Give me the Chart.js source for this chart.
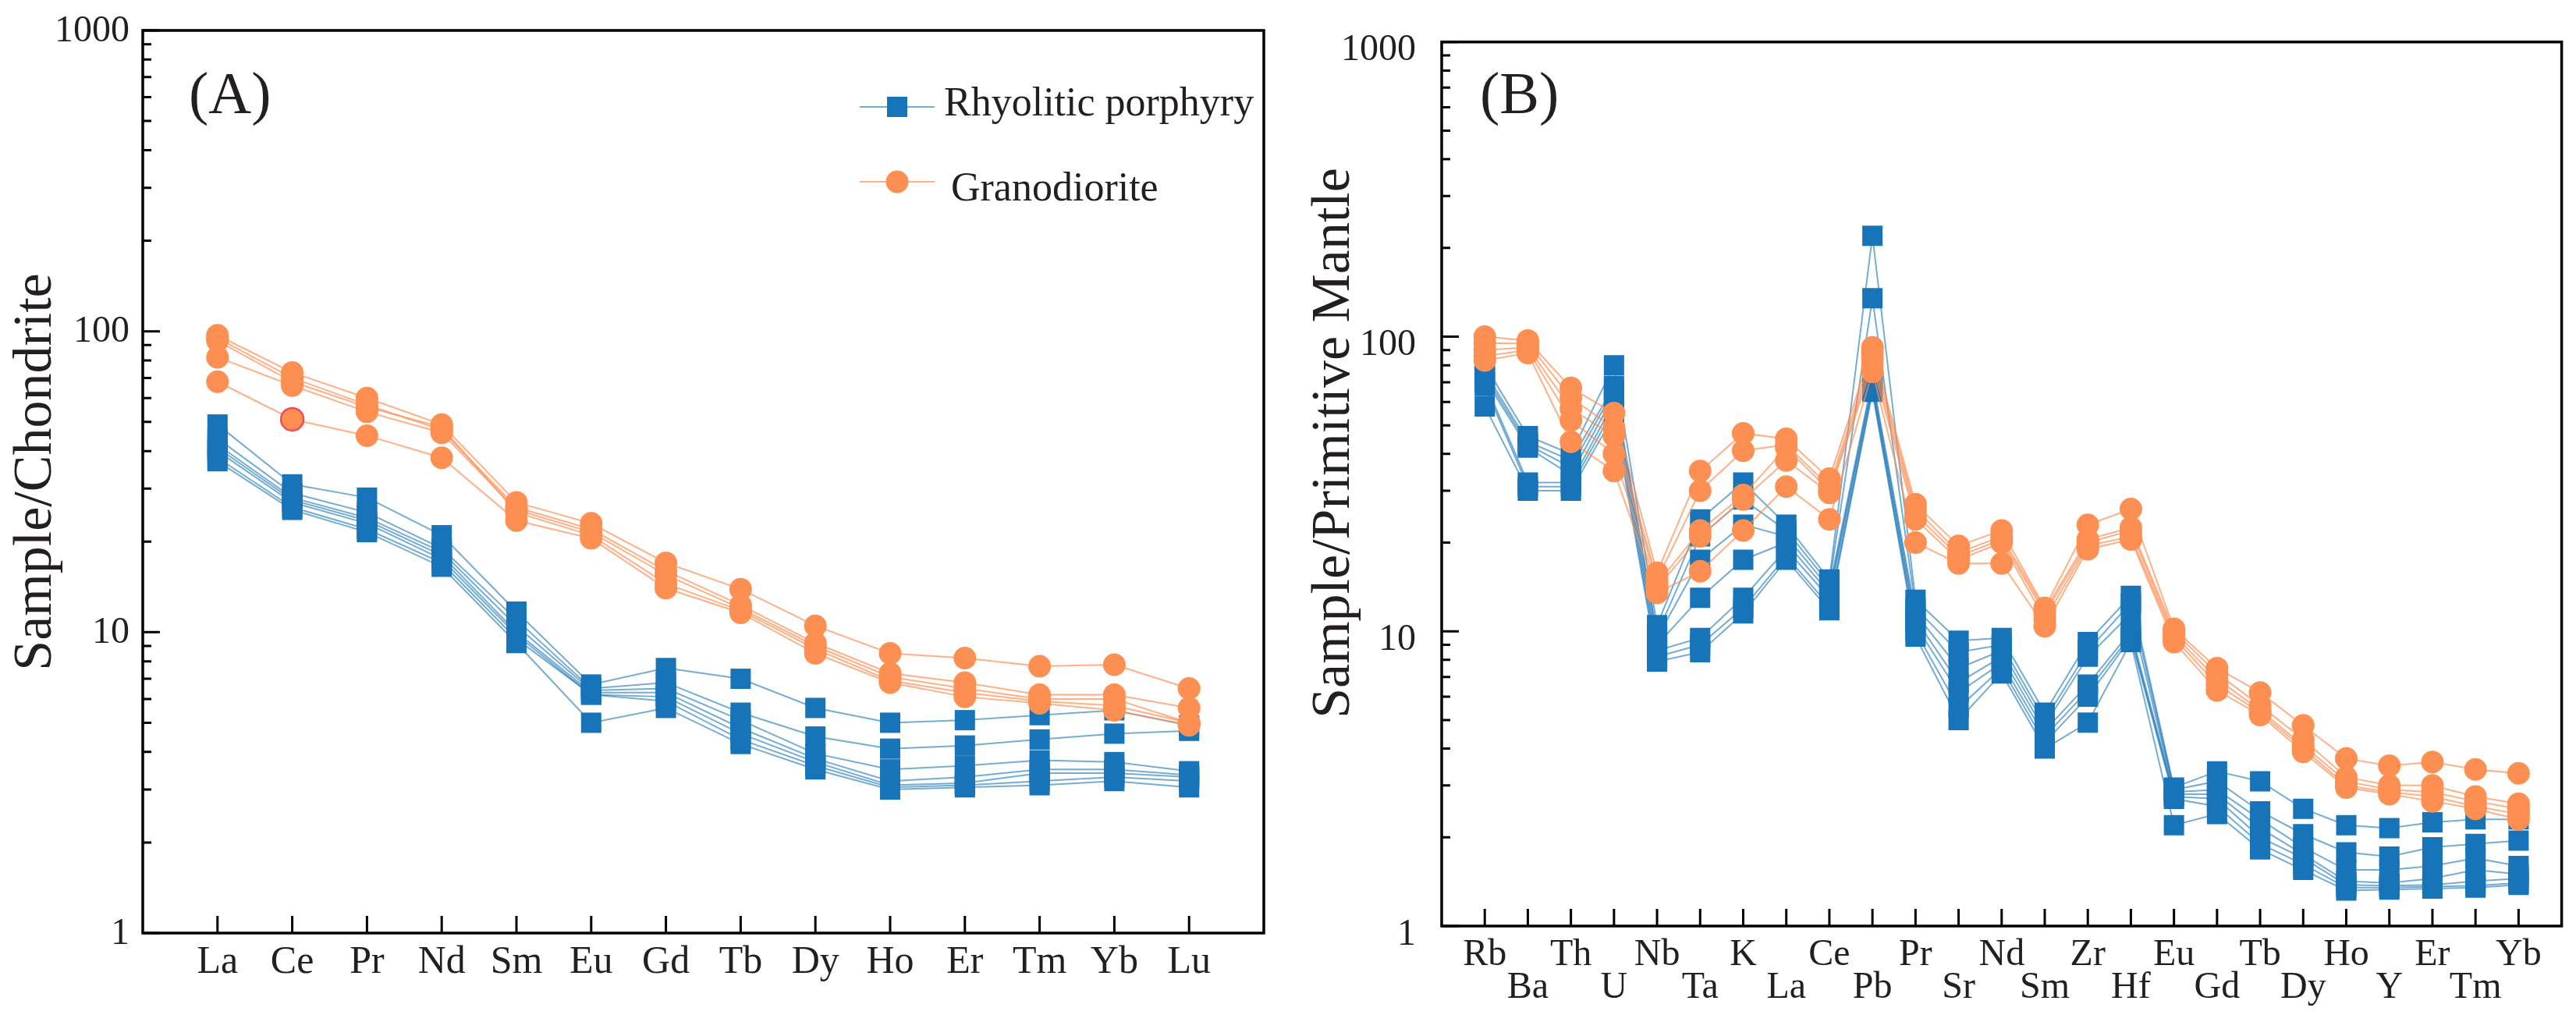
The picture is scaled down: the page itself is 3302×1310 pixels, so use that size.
<!DOCTYPE html>
<html>
<head>
<meta charset="utf-8">
<title>REE and spider diagrams</title>
<script src="https://cdn.jsdelivr.net/npm/chart.js@4.4.0/dist/chart.umd.min.js"></script>
<style>
  html, body { margin: 0; padding: 0; background: #ffffff; }
  body { width: 3302px; height: 1310px; position: relative; overflow: hidden; }
  #panelA { position: absolute; left: 0; top: 0; }
  #panelB { position: absolute; left: 1650px; top: 0; }
</style>
</head>
<body>
<canvas id="panelA" width="1650" height="1310"></canvas>
<canvas id="panelB" width="1652" height="1310"></canvas>
<script>
// categories
const reeElements = ['La', 'Ce', 'Pr', 'Nd', 'Sm', 'Eu', 'Gd', 'Tb', 'Dy', 'Ho', 'Er', 'Tm', 'Yb', 'Lu'];
const spiderElements = ['Rb', 'Ba', 'Th', 'U', 'Nb', 'Ta', 'K', 'La', 'Ce', 'Pb', 'Pr', 'Sr', 'Nd', 'Sm',
  'Zr', 'Hf', 'Eu', 'Gd', 'Tb', 'Dy', 'Ho', 'Y', 'Er', 'Tm', 'Yb'];

// y ticks (labels only on decades)
const logTickValues = [1, 2, 3, 4, 5, 6, 7, 8, 9, 10, 20, 30, 40, 50, 60, 70, 80, 90,
  100, 200, 300, 400, 500, 600, 700, 800, 900, 1000];

// (A) chondrite-normalised REE, one row per sample
const reePorphyry = [
  [49, 31, 28, 21, 11.7, 6.7, 7.6, 7.0, 5.6, 5.0, 5.1, 5.3, 5.5, 4.9],
  [44, 29, 25, 19, 11, 6.5, 6.8, 5.4, 4.5, 4.1, 4.2, 4.4, 4.6, 4.7],
  [42, 28, 24, 18.5, 10.5, 6.4, 6.5, 5.1, 3.95, 3.5, 3.6, 3.75, 3.7, 3.45],
  [41, 27.5, 23.5, 18, 10, 6.3, 6.3, 4.8, 3.8, 3.2, 3.3, 3.5, 3.5, 3.35],
  [40, 27, 23, 17.5, 9.8, 6.2, 6.1, 4.6, 3.7, 3.1, 3.15, 3.4, 3.4, 3.3],
  [38, 26, 22, 17, 9.5, 6.2, 5.9, 4.4, 3.6, 3.05, 3.1, 3.2, 3.3, 3.2],
  [37, 25.5, 21.5, 16.5, 9.2, 5.0, 5.6, 4.25, 3.5, 3.0, 3.05, 3.1, 3.2, 3.05]
];
const reeGranodiorite = [
  [97, 73, 60, 49, 27, 23, 17, 13.9, 10.5, 8.5, 8.2, 7.7, 7.8, 6.5],
  [95, 70, 57, 47, 26, 22, 16, 12.3, 9.2, 7.3, 6.8, 6.2, 6.2, 5.6],
  [82, 66, 54, 46, 25.5, 21.5, 15.5, 12, 9.0, 7.1, 6.5, 6.0, 6.0, 5.0],
  [93, 68, 56, 48, 25, 21, 14.5, 11.8, 8.8, 6.9, 6.3, 5.9, 5.7, 5.0],
  [68, 51, 45, 38, 23.5, 20.5, 14, 11.6, 8.5, 6.8, 6.1, 5.8, 5.5, 4.9]
];

// (B) primitive-mantle-normalised trace elements
const spiderPorphyry = [
  [80, 46, 40, 80, 10.5, 24, 32, 23, 15, 220, 12.8, 9.3, 9.5, 5.3, 9.2, 13.2, 2.95, 3.35, 3.1, 2.5, 2.2, 2.15, 2.25, 2.3, 2.3],
  [76, 44, 38, 68, 9.8, 21, 28, 22, 14.5, 135, 12, 8.5, 9.0, 5.0, 8.6, 12.5, 2.9, 3.1, 2.45, 2.05, 1.78, 1.72, 1.85, 1.9, 1.95],
  [74, 43, 36, 66, 9.5, 17.5, 23, 21, 14, 72, 11.5, 7.5, 8.6, 4.8, 8.2, 11.5, 2.85, 2.9, 2.3, 1.85, 1.55, 1.55, 1.6, 1.7, 1.6],
  [72, 42, 34, 63, 9.0, 13, 17.5, 20, 13.5, 70, 11, 6.7, 8.2, 4.6, 6.6, 10, 2.8, 2.8, 2.15, 1.75, 1.42, 1.4, 1.45, 1.55, 1.5],
  [70, 32, 32, 60, 8.6, 9.5, 13, 19, 13, 68, 10.5, 6.2, 7.8, 4.4, 6.3, 9.7, 2.75, 2.7, 2.0, 1.7, 1.38, 1.37, 1.38, 1.42, 1.45],
  [68, 31, 31, 57, 8.2, 9.0, 12, 18, 12.2, 66, 10, 5.5, 7.5, 4.2, 6.0, 9.5, 2.7, 2.55, 1.9, 1.62, 1.35, 1.35, 1.36, 1.37, 1.4],
  [58, 30, 30, 54, 7.9, 8.5, 11.5, 17.5, 11.8, 65, 9.6, 5.0, 7.2, 4.0, 4.9, 9.2, 2.2, 2.4, 1.82, 1.55, 1.32, 1.33, 1.34, 1.35, 1.38]
];
const spiderGranodiorite = [
  [100, 97, 67, 55, 15.8, 35, 47, 45, 33, 92, 27, 19.5, 22, 12, 23, 26, 10.2, 7.5, 6.2, 4.8, 3.7, 3.5, 3.6, 3.4, 3.3],
  [95, 95, 62, 49, 15, 30, 41, 43, 31, 88, 26, 18.5, 21, 11.8, 20.5, 22.5, 10, 7.2, 5.6, 4.3, 3.2, 3.0, 3.0, 2.75, 2.6],
  [90, 92, 57, 46, 14.5, 22, 29, 42, 30, 84, 25, 18, 20.5, 11.5, 20, 22, 9.7, 6.9, 5.4, 4.1, 3.1, 2.9, 2.85, 2.65, 2.5],
  [86, 90, 52, 40, 14, 21, 28, 38, 29.5, 80, 24, 17.5, 20, 11, 19.5, 21, 9.5, 6.6, 5.3, 4.0, 3.0, 2.85, 2.75, 2.55, 2.4],
  [83, 88, 44, 35, 13.5, 16, 22, 31, 24, 76, 20, 17, 17, 10.4, 19, 20.5, 9.2, 6.3, 5.2, 3.9, 2.95, 2.8, 2.65, 2.5, 2.3]
];

(function() {
  if (typeof Chart === 'undefined') return;

  const serif = "'Liberation Serif', 'Times New Roman', serif";
  const inkColor = '#231f20';

  Chart.defaults.font.family = serif;
  Chart.defaults.color = inkColor;

  const porphyryStyle = {
    label: 'Rhyolitic porphyry',
    line: 'rgba(23, 116, 184, 0.6)',
    fill: '#1774b8',
    marker: 'rect',
    radius: 18.4
  };
  const granodioriteStyle = {
    label: 'Granodiorite',
    line: 'rgba(254, 143, 82, 0.7)',
    fill: '#fe8f52',
    marker: 'circle',
    radius: 14.5
  };

  function isDecade(v) {
    const e = Math.log10(v);
    return Math.abs(e - Math.round(e)) < 1e-9;
  }

  function buildDatasets(rows, style, ring) {
    return rows.map(function(row, rowIndex) {
      return {
        label: style.label,
        data: row.map(function(v, i) {
          return { x: i, y: v };
        }),
        borderColor: style.line,
        borderWidth: 2,
        pointStyle: style.marker,
        pointRadius: style.radius,
        pointHoverRadius: style.radius,
        pointBackgroundColor: style.fill,
        pointBorderColor: '#ee4b5b',
        pointBorderWidth: function(ctx) {
          return ring && ring.row === rowIndex && ring.index === ctx.dataIndex ? 2.5 : 0;
        },
        tension: 0,
        fill: false
      };
    });
  }

  // box round the plot and inward tick marks, placed from the scales
  const framePlugin = {
    id: 'frame',
    afterDatasetsDraw: function(chart) {
      const ctx = chart.ctx;
      const area = chart.chartArea;
      const xs = chart.scales.x;
      const ys = chart.scales.y;
      ctx.save();
      ctx.strokeStyle = '#000000';
      ctx.lineWidth = 3;
      ctx.beginPath();
      xs.ticks.forEach(function(t) {
        const px = xs.getPixelForValue(t.value);
        ctx.moveTo(px, area.bottom);
        ctx.lineTo(px, area.bottom - 22);
      });
      ys.ticks.forEach(function(t) {
        const py = ys.getPixelForValue(t.value);
        const len = isDecade(t.value) ? 22 : 11;
        ctx.moveTo(area.left, py);
        ctx.lineTo(area.left + len, py);
      });
      ctx.stroke();
      ctx.lineWidth = 3.5;
      ctx.strokeRect(area.left, area.top, area.right - area.left, area.bottom - area.top);
      ctx.restore();
    }
  };

  function textPlugin(cfg) {
    return {
      id: 'panelText',
      afterDraw: function(chart) {
        const ctx = chart.ctx;
        ctx.save();
        ctx.fillStyle = inkColor;

        // panel letter
        ctx.font = '76px ' + serif;
        ctx.textAlign = 'left';
        ctx.textBaseline = 'alphabetic';
        ctx.fillText(cfg.letter, cfg.letterX, 145);

        // y axis title
        ctx.save();
        ctx.translate(cfg.titleX, cfg.titleY);
        ctx.rotate(-Math.PI / 2);
        ctx.font = '70px ' + serif;
        ctx.textAlign = 'center';
        ctx.fillText(cfg.title, 0, 0);
        ctx.restore();

        if (cfg.legend) {
          ctx.font = '52px ' + serif;
          ctx.lineWidth = 2;
          // rhyolitic porphyry
          ctx.strokeStyle = porphyryStyle.line;
          ctx.beginPath();
          ctx.moveTo(1102, 137);
          ctx.lineTo(1198, 137);
          ctx.stroke();
          ctx.fillStyle = porphyryStyle.fill;
          ctx.fillRect(1150 - 13, 137 - 13, 26, 26);
          ctx.fillStyle = inkColor;
          ctx.fillText(porphyryStyle.label, 1210, 148);
          // granodiorite
          ctx.strokeStyle = granodioriteStyle.line;
          ctx.beginPath();
          ctx.moveTo(1102, 233);
          ctx.lineTo(1198, 233);
          ctx.stroke();
          ctx.fillStyle = granodioriteStyle.fill;
          ctx.beginPath();
          ctx.arc(1150, 233, 14.5, 0, Math.PI * 2);
          ctx.fill();
          ctx.fillStyle = inkColor;
          ctx.fillText(granodioriteStyle.label, 1219, 257);
        }
        ctx.restore();
      }
    };
  }

  function panelOptions(cfg) {
    return {
      responsive: false,
      animation: false,
      devicePixelRatio: 1,
      events: [],
      layout: {
        padding: { top: cfg.top, right: cfg.right, left: 0, bottom: 0 }
      },
      plugins: {
        legend: { display: false },
        tooltip: { enabled: false }
      },
      scales: {
        x: {
          type: 'linear',
          min: -1,
          max: cfg.labels.length,
          grid: { display: false },
          border: { display: false },
          afterBuildTicks: function(scale) {
            scale.ticks = cfg.labels.map(function(_, i) {
              return { value: i };
            });
          },
          afterFit: function(scale) {
            scale.height = cfg.xHeight;
          },
          ticks: {
            autoSkip: false,
            maxRotation: 0,
            minRotation: 0,
            padding: cfg.xPadding,
            color: inkColor,
            font: { size: cfg.xFont, lineHeight: cfg.xLineHeight },
            callback: function(value) {
              const name = cfg.labels[value];
              if (name === undefined) return '';
              return cfg.twoRows && value % 2 === 1 ? ['', name] : name;
            }
          }
        },
        y: {
          type: 'logarithmic',
          min: 1,
          max: 1000,
          grid: { display: false },
          border: { display: false },
          afterBuildTicks: function(scale) {
            scale.ticks = logTickValues.map(function(v) {
              return { value: v, major: isDecade(v) };
            });
          },
          afterFit: function(scale) {
            scale.width = cfg.yWidth;
          },
          ticks: {
            autoSkip: false,
            padding: cfg.yPadding,
            labelOffset: cfg.yLabelOffset,
            color: inkColor,
            font: { size: 48 },
            callback: function(value) {
              return isDecade(value) ? String(value) : '';
            }
          }
        }
      }
    };
  }

  const canvasA = document.getElementById('panelA');
  const canvasB = document.getElementById('panelB');

  if (canvasA) {
    window.reeChart = new Chart(canvasA, {
      type: 'line',
      data: {
        datasets: buildDatasets(reeGranodiorite, granodioriteStyle, { row: 4, index: 1 })
          .concat(buildDatasets(reePorphyry, porphyryStyle, null))
      },
      options: panelOptions({
        labels: reeElements,
        top: 39,
        right: 30,
        xHeight: 114,
        yWidth: 183,
        xPadding: 0,
        xFont: 50,
        xLineHeight: 1.2,
        twoRows: false,
        yPadding: 9,
        yLabelOffset: 1
      }),
      plugins: [framePlugin, textPlugin({
        letter: '(A)',
        letterX: 242,
        title: 'Sample/Chondrite',
        titleX: 65,
        titleY: 605,
        legend: true
      })]
    });
  }

  if (canvasB) {
    window.spiderChart = new Chart(canvasB, {
      type: 'line',
      data: {
        datasets: buildDatasets(spiderGranodiorite, granodioriteStyle, null)
          .concat(buildDatasets(spiderPorphyry, porphyryStyle, null))
      },
      options: panelOptions({
        labels: spiderElements,
        top: 33,
        right: 16,
        xHeight: 123,
        yWidth: 198,
        xPadding: 8,
        xFont: 48,
        xLineHeight: 0.875,
        twoRows: true,
        yPadding: 25,
        yLabelOffset: 11
      }),
      plugins: [framePlugin, textPlugin({
        letter: '(B)',
        letterX: 247,
        title: 'Sample/Primitive Mantle',
        titleX: 79,
        titleY: 568,
        legend: false
      })]
    });
  }
})();
</script>
</body>
</html>
